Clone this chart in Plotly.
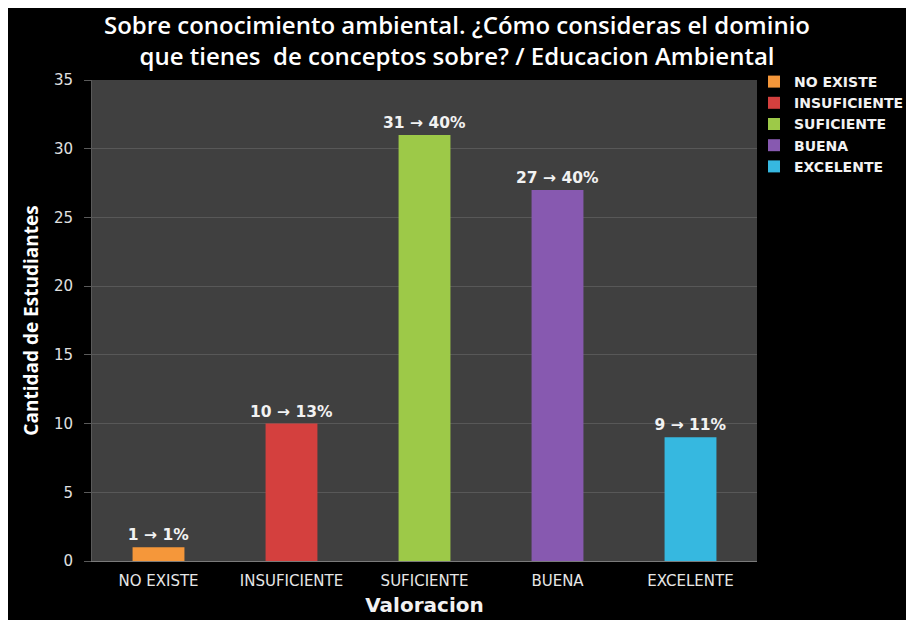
import plotly.graph_objects as go

categories = ["NO EXISTE", "INSUFICIENTE", "SUFICIENTE", "BUENA", "EXCELENTE"]
counts = [1, 10, 31, 27, 9]
percents = ["1%", "13%", "40%", "40%", "11%"]
colors = ["#F5973A", "#D4403E", "#9DC948", "#8759B0", "#36B8E0"]
y_ticks = [0, 5, 10, 15, 20, 25, 30, 35]

# page body has an 8px margin, so the figure starts at (8, 8) on screen
OFF = 8
W, H = 914 - OFF, 620 - OFF
ml, mr, mt, mb = 92 - OFF, 157, 80 - OFF, 59
pw, ph = W - ml - mr, H - mt - mb

def px_x(px):
    return (px - OFF - ml) / pw

def px_y(py):
    return (H - mb - (py - OFF)) / ph

SMALL = "DejaVu Sans"

fig = go.Figure()
for cat, c, p, col in zip(categories, counts, percents, colors):
    fig.add_trace(go.Bar(
        x=[cat], y=[c], name=cat, width=0.39,
        marker=dict(color=col, line=dict(width=0)),
        text=[f"{c} \u2192 {p}"], textposition="outside", cliponaxis=False,
        constraintext="none",
        textfont=dict(family=SMALL, size=15.5, color="#F2F2F2", weight="bold"),
    ))

fig.update_layout(
    width=W, height=H,
    margin=dict(l=ml, r=mr, t=mt, b=mb, autoexpand=False),
    paper_bgcolor="#000000",
    plot_bgcolor="#404040",
    barmode="overlay",
    font=dict(family="Open Sans", color="#E0E0E0"),
    title=dict(
        text="Sobre conocimiento ambiental. \u00bfC\u00f3mo consideras el dominio<br>que tienes  de conceptos sobre? / Educacion Ambiental",
        x=(457 - OFF) / W, xref="container", xanchor="center",
        y=1 - (34 - OFF) / H, yref="container", yanchor="middle",
        font=dict(family="Open Sans", size=24, color="#FFFFFF", weight=600),
    ),
    legend=dict(
        x=px_x(754), xanchor="left", y=px_y(66), yanchor="top",
        font=dict(family=SMALL, size=14, color="#F2F2F2", weight="bold"),
        bgcolor="rgba(0,0,0,0)", itemwidth=30, tracegroupgap=0,
    ),
    xaxis=dict(
        categoryorder="array", categoryarray=categories,
        showgrid=False, showline=True, linecolor="#7A7A7A", linewidth=1,
        tickfont=dict(family=SMALL, size=15, color="#E6E6E6"),
        ticklabelstandoff=6, automargin=False,
        title=dict(text="Valoracion", standoff=8,
                   font=dict(family=SMALL, size=20, color="#F2F2F2", weight="bold")),
        ticks="",
    ),
    yaxis=dict(
        range=[0, 35], tickvals=y_ticks,
        showgrid=True, gridcolor="#585858", gridwidth=1,
        showline=True, linecolor="#5A5A5A", zeroline=False,
        tickfont=dict(family=SMALL, size=15, color="#E0E0E0"),
        ticks="outside", ticklen=7, tickcolor="#5A5A5A",
        ticklabelstandoff=8, automargin=False,
        title=dict(text="Cantidad de Estudiantes", standoff=10,
                   font=dict(family="Open Sans", size=19,
                             color="#FFFFFF", weight="bold")),
    ),
)

fig.write_html("out.html")
